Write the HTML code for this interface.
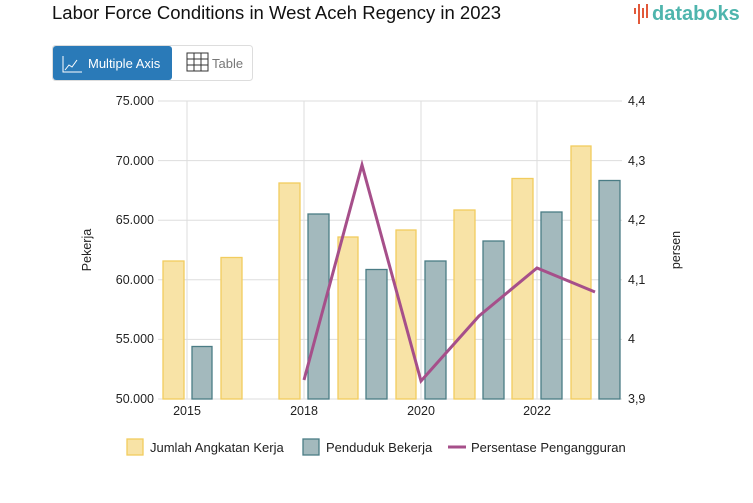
<!DOCTYPE html>
<html><head><meta charset="utf-8"><style>
body{margin:0;background:#fff;width:753px;height:498px;overflow:hidden;font-family:"Liberation Sans",sans-serif}
</style></head><body>
<svg width="753" height="498" xmlns="http://www.w3.org/2000/svg" font-family="Liberation Sans, sans-serif">
<text x="52" y="19" font-size="18.5" fill="#111">Labor Force Conditions in West Aceh Regency in 2023</text>
<g fill="#e2593a"><rect x="634" y="8" width="2" height="6"/><rect x="638" y="4" width="2" height="20"/><rect x="642" y="8" width="2" height="10"/><rect x="646" y="4" width="2" height="14"/></g>
<text x="652" y="20" font-size="20" font-weight="bold" fill="#4fb5ad">databoks</text>
<rect x="52.5" y="45.5" width="200" height="35" rx="3" fill="#fff" stroke="#ddd"/>
<rect x="53" y="46" width="119" height="34" rx="3" fill="#2a7ab8"/>
<text x="88" y="68" font-size="13" fill="#fff">Multiple Axis</text>
<path d="M63 56v16h19M65 70l4-5 3 2 5-7" stroke="#fff" fill="none"/>
<g stroke="#333" fill="none"><rect x="187" y="53" width="21" height="18"/><path d="M194 53v18M201 53v18M187 59h21M187 65h21"/></g>
<text x="212" y="68" font-size="13" fill="#777">Table</text>
<g stroke="#ddd" stroke-width="1">
<line x1="158" y1="101" x2="622" y2="101"/><line x1="158" y1="160.6" x2="622" y2="160.6"/><line x1="158" y1="220.2" x2="622" y2="220.2"/><line x1="158" y1="279.8" x2="622" y2="279.8"/><line x1="158" y1="339.4" x2="622" y2="339.4"/><line x1="158" y1="399" x2="622" y2="399"/>
<line x1="187" y1="101" x2="187" y2="399"/><line x1="304" y1="101" x2="304" y2="399"/><line x1="421" y1="101" x2="421" y2="399"/><line x1="537" y1="101" x2="537" y2="399"/>
</g>
<g font-size="12.5" fill="#222" text-anchor="end">
<text x="154" y="105">75.000</text><text x="154" y="165">70.000</text><text x="154" y="224">65.000</text><text x="154" y="284">60.000</text><text x="154" y="343">55.000</text><text x="154" y="403">50.000</text>
</g>
<g font-size="12.5" fill="#222">
<text x="628" y="105">4,4</text><text x="628" y="165">4,3</text><text x="628" y="224">4,2</text><text x="628" y="284">4,1</text><text x="628" y="343">4</text><text x="628" y="403">3,9</text>
</g>
<g font-size="12.5" fill="#222" text-anchor="middle">
<text x="187" y="415">2015</text><text x="304" y="415">2018</text><text x="421" y="415">2020</text><text x="537" y="415">2022</text>
</g>
<text transform="translate(91 250) rotate(-90)" font-size="12.5" fill="#222" text-anchor="middle">Pekerja</text>
<text transform="translate(680 250) rotate(-90)" font-size="12.5" fill="#222" text-anchor="middle">persen</text>
<g fill="#f8e3a6" stroke="#f2cc5e" stroke-width="1.3">
<rect x="163" y="261" width="21" height="138"/><rect x="221" y="257.5" width="21" height="141.5"/><rect x="279" y="183" width="21" height="216"/><rect x="338" y="237" width="20" height="162"/><rect x="396" y="230" width="20" height="169"/><rect x="454" y="210" width="21" height="189"/><rect x="512" y="178.5" width="21" height="220.5"/><rect x="571" y="146" width="20" height="253"/>
</g>
<g fill="#a3b9bd" stroke="#4a7c85" stroke-width="1.3">
<rect x="192" y="346.5" width="20" height="52.5"/><rect x="308" y="214" width="21" height="185"/><rect x="366" y="269.5" width="21" height="129.5"/><rect x="425" y="261" width="21" height="138"/><rect x="483" y="241" width="21" height="158"/><rect x="541" y="212" width="21" height="187"/><rect x="599" y="180.5" width="21" height="218.5"/>
</g>
<polyline points="304,380 362,165 421,381 479,316 537,268 595,292" fill="none" stroke="#a64f8a" stroke-width="3"/>
<rect x="127" y="439" width="16" height="16" fill="#f8e3a6" stroke="#f2cc5e" stroke-width="1.3"/>
<text x="150" y="452" font-size="13" fill="#222">Jumlah Angkatan Kerja</text>
<rect x="303" y="439" width="16" height="16" fill="#a3b9bd" stroke="#4a7c85" stroke-width="1.3"/>
<text x="326" y="452" font-size="13" fill="#222">Penduduk Bekerja</text>
<line x1="448" y1="447" x2="466" y2="447" stroke="#a64f8a" stroke-width="3"/>
<text x="471" y="452" font-size="13" fill="#222">Persentase Pengangguran</text>
</svg>
</body></html>
